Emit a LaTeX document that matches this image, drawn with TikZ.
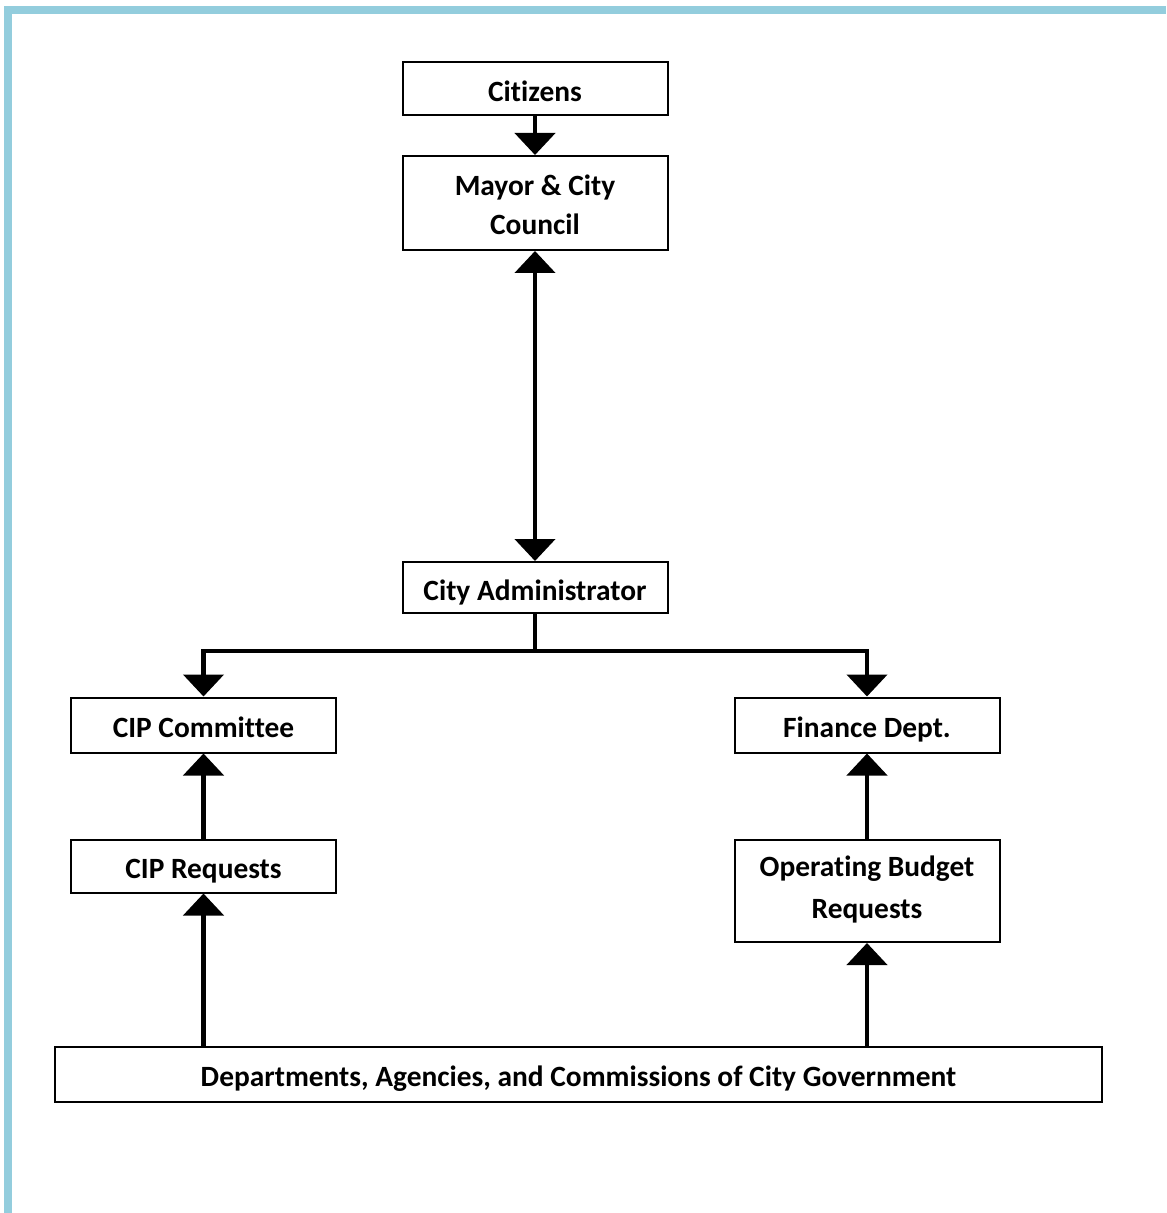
\documentclass[tikz,border=0pt]{standalone}
\usepackage{fontspec}
\setmainfont{Carlito}[Ligatures={TeX,NoCommon}]
\usetikzlibrary{arrows.meta,positioning}
\definecolor{framecol}{HTML}{93CDDD}
\newcommand\boxtop{\rule{0pt}{16.7pt}}
\newcommand\boxbot{\rule[-3.9pt]{0pt}{3.9pt}}
\newcommand\firstline{\rule{0pt}{15.6pt}}
\tikzset{
  box/.style={draw,line width=1pt,minimum width=132.5pt,inner sep=0pt,align=center,
    font=\bfseries\fontsize{14.7}{19.5}\selectfont,
    execute at begin node=\boxtop,execute at end node=\boxbot},
  flow/.style={line width=2.3pt,-{Triangle[width=20pt,length=11pt]}},
}
\begin{document}
\begin{tikzpicture}[x=0.5pt,y=-0.5pt]
				\useasboundingbox (0,0) rectangle (1166,1213);
				\fill[framecol] (4,6) rectangle (1166,14);
				\fill[framecol] (4,6) rectangle (12,1213);
				\node[box,minimum height=26.5pt] (cit) at (535,88.5) {Citizens};
				\node[box,minimum height=47pt] (may) at (535,203) {\firstline Mayor \& City\\Council};
				\node[box,minimum height=25.5pt] (adm) at (535,587.5) {City Administrator};
				\node[box,minimum height=27.5pt] (cipc) at (203.5,725) {CIP Committee};
				\node[box,minimum height=27.5pt] (fin) at (867,725) {Finance Dept.};
				\node[box,minimum height=26.5pt] (cipr) at (203.5,866) {CIP Requests};
				\node[box,minimum height=51pt,font=\bfseries\fontsize{14.7}{20.8}\selectfont]
				(opr) at (867,891) {Operating Budget\\Requests};
				\node[box,minimum width=523.5pt,minimum height=27.5pt] (dep) at (578.5,1074)
				{Departments, Agencies, and Commissions of City Government};
				\coordinate (split) at ([yshift=-18.5pt]adm.south);
				\path[flow]
				(cit) edge (may)
				(cipr) edge (cipc)
				(opr) edge (fin);
				\draw[flow,{Triangle[width=20pt,length=11pt]}-{Triangle[width=20pt,length=11pt]}] (may) -- (adm);
				\draw[flow] (adm.south) -- (split) -| (cipc.north);
				\draw[flow] (split) -| (fin.north);
				\draw[flow] (dep.north -| cipr) -- (cipr);
				\draw[flow] (dep.north -| opr) -- (opr);
			\end{tikzpicture}
\end{document}
